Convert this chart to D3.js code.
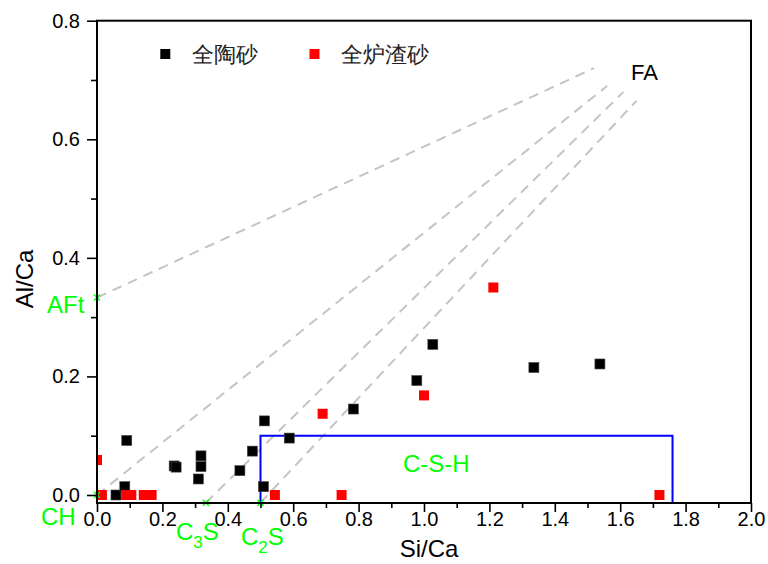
<!DOCTYPE html>
<html>
<head>
<meta charset="utf-8">
<script src="https://cdn.jsdelivr.net/npm/d3@7"></script>
<style>
  html, body { margin: 0; padding: 0; background: #fff; }
  svg { display: block; }
  text { font-family: "Liberation Sans", Arial, sans-serif; }
</style>
</head>
<body>
<svg id="chart" width="768" height="564"></svg>
<script>
// Series: Si/Ca (x) and Al/Ca (y) ratios
const ceramicSandX = [0.058, 0.085, 0.091, 0.236, 0.242, 0.310, 0.318, 0.318, 0.437, 0.475, 0.509, 0.512, 0.588, 0.784, 0.978, 1.027, 1.336, 1.538];
const ceramicSandY = [0.000, 0.014, 0.092, 0.049, 0.047, 0.027, 0.048, 0.066, 0.041, 0.074, 0.014, 0.125, 0.096, 0.145, 0.193, 0.254, 0.215, 0.221];
const slagSandX = [0.000, 0.015, 0.089, 0.105, 0.143, 0.167, 0.544, 0.690, 0.748, 1.000, 1.212, 1.720];
const slagSandY = [0.059, 0.000, 0.000, 0.000, 0.000, 0.000, 0.000, 0.137, 0.000, 0.168, 0.350, 0.000];
const seriesNames = ["全陶砂", "全炉渣砂"];

// Reference phases (green crosses) and the FA tie-line ends
const phaseNames = ["AFt", "CH", "C3S", "C2S"];
const phaseX = [0.0, 0.0, 0.333, 0.5];
const phaseY = [0.333, 0.0, -0.013, -0.013];
const faEndX = [1.52, 1.56, 1.61, 1.65];
const faEndY = [0.72, 0.69, 0.68, 0.665];

// C-S-H field
const cshX = [0.5, 1.76];
const cshTop = 0.1;

const xTicks = [0.0, 0.2, 0.4, 0.6, 0.8, 1.0, 1.2, 1.4, 1.6, 1.8, 2.0];
const xMinor = [0.1, 0.3, 0.5, 0.7, 0.9, 1.1, 1.3, 1.5, 1.7, 1.9];
const yTicks = [0.0, 0.2, 0.4, 0.6, 0.8];
const yMinor = [0.1, 0.3, 0.5, 0.7];
const xTitle = "Si/Ca";
const yTitle = "Al/Ca";

const svg = d3.select("#chart");
const mLeft = 97, mRight = 751, mTop = 20.7, mBottom = 503;
const x = d3.scaleLinear().domain([0, 2.0]).range([mLeft, mRight]);
const y = d3.scaleLinear().domain([-0.0135, 0.8]).range([mBottom, mTop]);

svg.append("defs").append("clipPath").attr("id", "plotClip")
  .append("rect").attr("x", mLeft).attr("y", mTop)
  .attr("width", mRight - mLeft).attr("height", mBottom - mTop);

const plot = svg.append("g").attr("clip-path", "url(#plotClip)");

// dashed tie lines from each phase toward FA
plot.append("g").selectAll("line").data(phaseNames).join("line")
  .attr("x1", (d, i) => x(phaseX[i])).attr("y1", (d, i) => y(phaseY[i]))
  .attr("x2", (d, i) => x(faEndX[i])).attr("y2", (d, i) => y(faEndY[i]))
  .attr("stroke", "#c4c4c4").attr("stroke-width", 2)
  .attr("stroke-dasharray", "10,7");

// C-S-H box
plot.append("path")
  .attr("d", d3.line()([[x(cshX[0]), mBottom], [x(cshX[0]), y(cshTop)], [x(cshX[1]), y(cshTop)], [x(cshX[1]), mBottom]]))
  .attr("fill", "none").attr("stroke", "#0000ff").attr("stroke-width", 2);

const sq = 10;
plot.append("g").selectAll("rect").data(ceramicSandX).join("rect")
  .attr("x", (d) => x(d) - sq / 2)
  .attr("y", (d, i) => y(ceramicSandY[i]) - sq / 2)
  .attr("width", sq).attr("height", sq)
  .attr("fill", "#000").attr("stroke", "#444").attr("stroke-width", 0.6);

plot.append("g").selectAll("rect").data(slagSandX).join("rect")
  .attr("x", (d) => x(d) - sq / 2)
  .attr("y", (d, i) => y(slagSandY[i]) - sq / 2)
  .attr("width", sq).attr("height", sq)
  .attr("fill", "#ff0000");

// green phase markers
const green = "#00ff00";
const cross = svg.append("g");
phaseNames.forEach((n, i) => {
  const cx = x(phaseX[i]), cy = y(phaseY[i]), r = 3;
  cross.append("path")
    .attr("d", `M${cx - r},${cy - r}L${cx + r},${cy + r}M${cx - r},${cy + r}L${cx + r},${cy - r}`)
    .attr("stroke", green).attr("stroke-width", 1.4);
});

// axes
const fontTick = "20px";
svg.append("g").attr("class", "xmaj").attr("transform", `translate(0,${mBottom})`)
  .call(d3.axisBottom(x).tickValues(xTicks).tickFormat(d3.format(".1f"))
    .tickSize(9).tickSizeOuter(0).tickPadding(0));
svg.append("g").attr("transform", `translate(0,${mBottom})`)
  .call(d3.axisBottom(x).tickValues(xMinor).tickFormat("").tickSize(5).tickSizeOuter(0));
svg.append("g").attr("transform", `translate(${mLeft},0)`)
  .call(d3.axisLeft(y).tickValues(yTicks).tickFormat(d3.format(".1f"))
    .tickSize(10).tickSizeOuter(0).tickPadding(7));
svg.append("g").attr("transform", `translate(${mLeft},0)`)
  .call(d3.axisLeft(y).tickValues(yMinor).tickFormat("").tickSize(6).tickSizeOuter(0));

svg.selectAll(".tick line").attr("stroke", "#000").attr("stroke-width", 1.6);
svg.selectAll(".tick text").attr("font-size", fontTick)
  .attr("font-family", "'Liberation Sans', Arial, sans-serif").attr("fill", "#000");
svg.selectAll(".domain").remove();

// frame
svg.append("rect").attr("x", mLeft).attr("y", mTop)
  .attr("width", mRight - mLeft).attr("height", mBottom - mTop)
  .attr("fill", "none").attr("stroke", "#000").attr("stroke-width", 2);

// axis titles
svg.append("text").attr("x", (mLeft + mRight) / 2 + 5).attr("y", 557)
  .attr("text-anchor", "middle").attr("font-size", "24px").text(xTitle);
svg.append("text").attr("transform", "translate(33,279) rotate(-90)")
  .attr("text-anchor", "middle").attr("font-size", "24px").text(yTitle);

// phase labels
const lab = svg.append("g").attr("fill", green).attr("font-size", "24px");
lab.append("text").attr("x", 47).attr("y", 313).text("AFt");
lab.append("text").attr("x", 41).attr("y", 525).text("CH");
const c3 = lab.append("text").attr("x", 176).attr("y", 540);
c3.append("tspan").text("C");
c3.append("tspan").attr("font-size", "17px").attr("dy", 8).text("3");
c3.append("tspan").attr("dy", -8).text("S");
const c2 = lab.append("text").attr("x", 241).attr("y", 545);
c2.append("tspan").text("C");
c2.append("tspan").attr("font-size", "17px").attr("dy", 8).text("2");
c2.append("tspan").attr("dy", -8).text("S");
lab.append("text").attr("x", 403).attr("y", 472).text("C-S-H");

svg.append("text").attr("x", 631).attr("y", 80).attr("font-size", "22px")
  .attr("fill", "#000").text("FA");

// legend
const leg = svg.append("g");
const legColors = ["#000", "#ff0000"];
const legX = [165.3, 314.5];
seriesNames.forEach((n, i) => {
  leg.append("rect").attr("x", legX[i] - 5).attr("y", 49).attr("width", 10).attr("height", 10)
    .attr("fill", legColors[i]);
  leg.append("text").attr("x", legX[i] + 26.5).attr("y", 62)
    .attr("font-family", "'Noto Sans CJK SC', sans-serif").attr("font-size", "22px")
    .attr("fill", "#222").text(n);
});
</script>
</body>
</html>
